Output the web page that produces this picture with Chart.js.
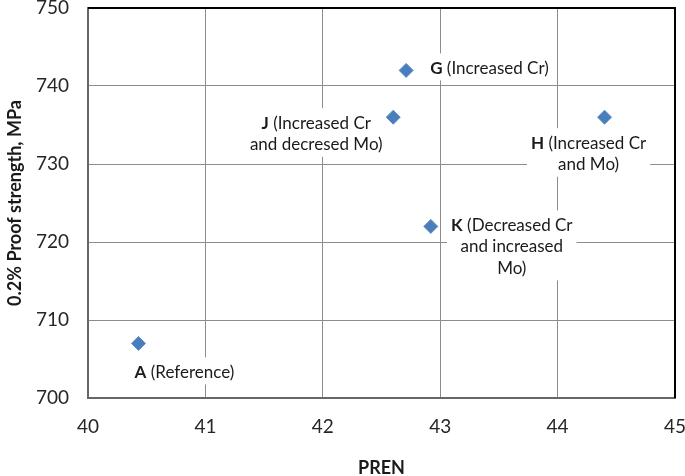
<!DOCTYPE html>
<html>
<head>
<meta charset="utf-8">
<script src="https://cdn.jsdelivr.net/npm/chart.js@4.4.0/dist/chart.umd.min.js"></script>
<style>
  html, body { margin: 0; padding: 0; background: #fff; }
  #wrap { width: 685px; height: 476px; }
</style>
</head>
<body>
<div id="wrap"><canvas id="chart" width="685" height="476"></canvas></div>
<script>
// data
const steelNames = ['A', 'G', 'J', 'H', 'K'];
const steelNotes = [
    ['(Reference)'],
    ['(Increased Cr)'],
    ['(Increased Cr', 'and decresed Mo)'],
    ['(Increased Cr', 'and Mo)'],
    ['(Decreased Cr', 'and increased', 'Mo)']
];
const prenValues = [40.43, 42.71, 42.6, 44.4, 42.92];
const proofValues = [707, 742, 736, 736, 722];
const xTicks = [40, 41, 42, 43, 44, 45];
const yTicks = [700, 710, 720, 730, 740, 750];

// where each note sits relative to its marker (pixels)
const noteLayout = [
    {dx: 46, dy: 29, align: 'center'},
    {dx: 24, dy: -2, align: 'left'},
    {dx: -77, dy: 6, align: 'center'},
    {dx: -16, dy: 26, align: 'center'},
    {dx: 81, dy: -1, align: 'center'}
];

const fontFamily = 'Lato, "Liberation Sans", sans-serif';
const noteSize = 17;
const noteLine = 21.5;

const pointNotes = {
    id: 'pointNotes',
    beforeDatasetsDraw(chart){
        const ctx = chart.ctx;
        const meta = chart.getDatasetMeta(0);
        const boldFont = `bold ${noteSize}px ${fontFamily}`;
        const plainFont = `${noteSize}px ${fontFamily}`;

        ctx.save();
        ctx.textBaseline = 'middle';
        meta.data.forEach((pt, i) => {
            const lay = noteLayout[i];
            const cx = pt.x + lay.dx;
            const firstY = pt.y + lay.dy;

            let lines = steelNotes[i].map((text, j) => {
                let bold = j === 0 ? steelNames[i] : '';
                let plain = j === 0 ? ' ' + text : text;
                ctx.font = boldFont;
                let bw = bold ? ctx.measureText(bold).width : 0;
                ctx.font = plainFont;
                let pw = ctx.measureText(plain).width;
                let left = lay.align === 'left' ? cx : cx - (bw + pw) / 2;
                return {bold, plain, bw, pw, left, y: firstY + j * noteLine};
            });

            let minX = Math.min(...lines.map(l => l.left));
            let maxX = Math.max(...lines.map(l => l.left + l.bw + l.pw));
            let top = firstY - 15;
            let bottom = lines[lines.length - 1].y + 12;
            ctx.fillStyle = '#ffffff';
            ctx.fillRect(minX - 4, top, maxX - minX + 8, bottom - top);

            ctx.fillStyle = '#1a1a1a';
            ctx.textAlign = 'left';
            for (const l of lines) {
                if (l.bold) {
                    ctx.font = boldFont;
                    ctx.fillText(l.bold, l.left, l.y);
                }
                ctx.font = plainFont;
                ctx.fillText(l.plain, l.left + l.bw, l.y);
            }
        });
        ctx.restore();
    },
    afterDraw(chart){
        const ctx = chart.ctx;
        const a = chart.chartArea;
        ctx.save();
        ctx.strokeStyle = '#000000';
        ctx.lineWidth = 2;
        ctx.beginPath();
        ctx.moveTo(a.left, a.top);
        ctx.lineTo(a.right, a.top);
        ctx.lineTo(a.right, a.bottom);
        ctx.stroke();
        ctx.restore();
    }
};

const ctx = document.getElementById('chart');

const chart = new Chart(ctx, {
    type: 'scatter',
    data: {
        datasets: [{
            data: prenValues.map((x, i) => ({x: x, y: proofValues[i]})),
            pointStyle: 'rectRot',
            pointRadius: 7,
            pointHoverRadius: 7,
            backgroundColor: '#4a7ebb',
            borderColor: '#5b8cc8',
            borderWidth: 1
        }]
    },
    options: {
        responsive: false,
        animation: false,
        layout: {
            padding: {top: 7, right: 10, left: 0, bottom: 0}
        },
        plugins: {
            legend: {display: false},
            tooltip: {enabled: false}
        },
        scales: {
            x: {
                type: 'linear',
                min: xTicks[0],
                max: xTicks[xTicks.length - 1],
                ticks: {
                    stepSize: 1,
                    padding: 17,
                    color: '#262626',
                    font: {family: fontFamily, size: 19}
                },
                grid: {color: '#8c8c8c', lineWidth: 1, drawTicks: false},
                border: {color: '#666', width: 2},
                title: {
                    display: true,
                    text: 'PREN',
                    color: '#1a1a1a',
                    padding: {top: 0, bottom: -3},
                    font: {family: fontFamily, size: 18, weight: 'bold'}
                },
                afterFit(scale){
                    scale.height = 78;
                    scale.paddingLeft = 0;
                    scale.paddingRight = 0;
                }
            },
            y: {
                type: 'linear',
                min: yTicks[0],
                max: yTicks[yTicks.length - 1],
                ticks: {
                    stepSize: 10,
                    padding: 19,
                    color: '#262626',
                    font: {family: fontFamily, size: 19}
                },
                grid: {color: '#8c8c8c', lineWidth: 1, drawTicks: false},
                border: {color: '#666', width: 2},
                title: {
                    display: true,
                    text: '0.2% Proof strength, MPa',
                    color: '#1a1a1a',
                    padding: {top: 4, bottom: 0},
                    font: {family: fontFamily, size: 18, weight: 'bold'}
                },
                afterFit(scale){
                    scale.width = 88;
                    scale.paddingTop = 0;
                    scale.paddingBottom = 0;
                }
            }
        }
    },
    plugins: [pointNotes]
});
</script>
</body>
</html>
